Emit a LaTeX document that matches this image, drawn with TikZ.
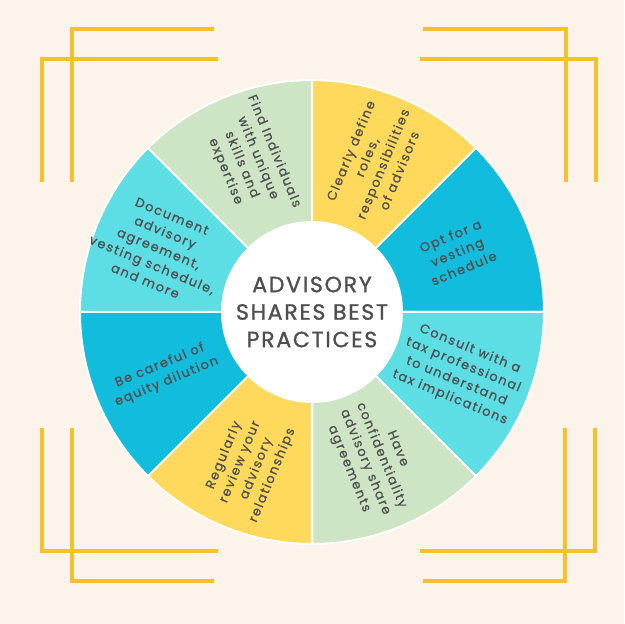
\documentclass[tikz,border=0pt]{standalone}
\usepackage{fontspec}
\setmainfont{Poppins}
\newfontfamily\titlefont[LetterSpace=8, FakeBold=1.2]{Poppins}
\newfontfamily\secfont[LetterSpace=12, FakeBold=0.8]{Poppins}
\definecolor{bgc}{HTML}{FCF3EB}
\definecolor{gold}{HTML}{F8C12C}
\definecolor{sgreen}{HTML}{CDE5C4}
\definecolor{syellow}{HTML}{FFD95C}
\definecolor{sblue}{HTML}{12BCDD}
\definecolor{scyan}{HTML}{5DDDE4}
\definecolor{txt}{HTML}{4F4F4F}
\tikzset{
  bracket/.style={draw=gold, line width=4pt, line cap=rect},
  sector/.style={draw=white, line width=2pt},
  sectxt/.style={align=center, text=txt, inner sep=0pt,
    font=\secfont\fontsize{12.8}{17.5}\selectfont},
  titletxt/.style={align=center, text=txt, inner sep=0pt,
    font=\titlefont\fontsize{22}{27.5}\selectfont},
}
\begin{document}
\begin{tikzpicture}[x=1pt,y=1pt]
\fill[bgc] (0,0) rectangle (624,624);
\useasboundingbox (0,0) rectangle (624,624);
% corner brackets
\draw[bracket] (42,444) -- (42,565) -- (216,565);
\draw[bracket] (72,444) -- (72,595) -- (212,595);
\draw[bracket] (425,595) -- (566,595) -- (566,444);
\draw[bracket] (422,565) -- (596,565) -- (596,444);
\draw[bracket] (42,194) -- (42,73) -- (216,73);
\draw[bracket] (72,194) -- (72,43) -- (212,43);
\draw[bracket] (595,194) -- (595,73) -- (422,73);
\draw[bracket] (565,194) -- (565,43) -- (425,43);
% wheel
\coordinate (c) at (312,312);
\foreach \a/\col in {90/sgreen,45/syellow,0/sblue,-45/scyan,-90/sgreen,-135/syellow,180/sblue,135/scyan}{
  \path[sector, fill=\col] (c) -- ++(\a:232) arc[start angle=\a, delta angle=45, radius=232] -- cycle;
}
\node[circle, fill=white, minimum size=182pt, inner sep=0pt] (hub) at (c) {};
\node[titletxt] (title) at (hub) {ADVISORY\\SHARES BEST\\PRACTICES};
% sector texts
\node[sectxt, rotate=-67.5] (t1) at ([shift={(112.5:163)}]c) {Find Individuals\\with unique\\skills and\\expertise};
\node[sectxt, rotate=67.5] (t2) at ([shift={(67.5:164)}]c) {Clearly define\\roles,\\responsibilities\\of advisors};
\node[sectxt, rotate=22.5] (t3) at ([shift={(22.5:157)}]c) {Opt for a\\vesting\\schedule};
\node[sectxt, rotate=-22.5] (t4) at ([shift={(-22.5:160)}]c) {Consult with a\\tax professional\\to understand\\tax implications};
\node[sectxt, rotate=-67.5] (t5) at ([shift={(-67.5:159)}]c) {Have\\confidentiality\\advisory share\\agreements};
\node[sectxt, rotate=67.5] (t6) at ([shift={(-112.5:166)}]c) {Regularly\\review your\\advisory\\relationships};
\node[sectxt, rotate=22.5] (t7) at ([shift={(-157.5:161)}]c) {Be careful of\\equity dilution};
\node[sectxt, rotate=-22.5] (t8) at ([shift={(157.5:166)}]c) {Document\\advisory\\agreement,\\vesting schedule,\\and more};
\end{tikzpicture}
\end{document}
